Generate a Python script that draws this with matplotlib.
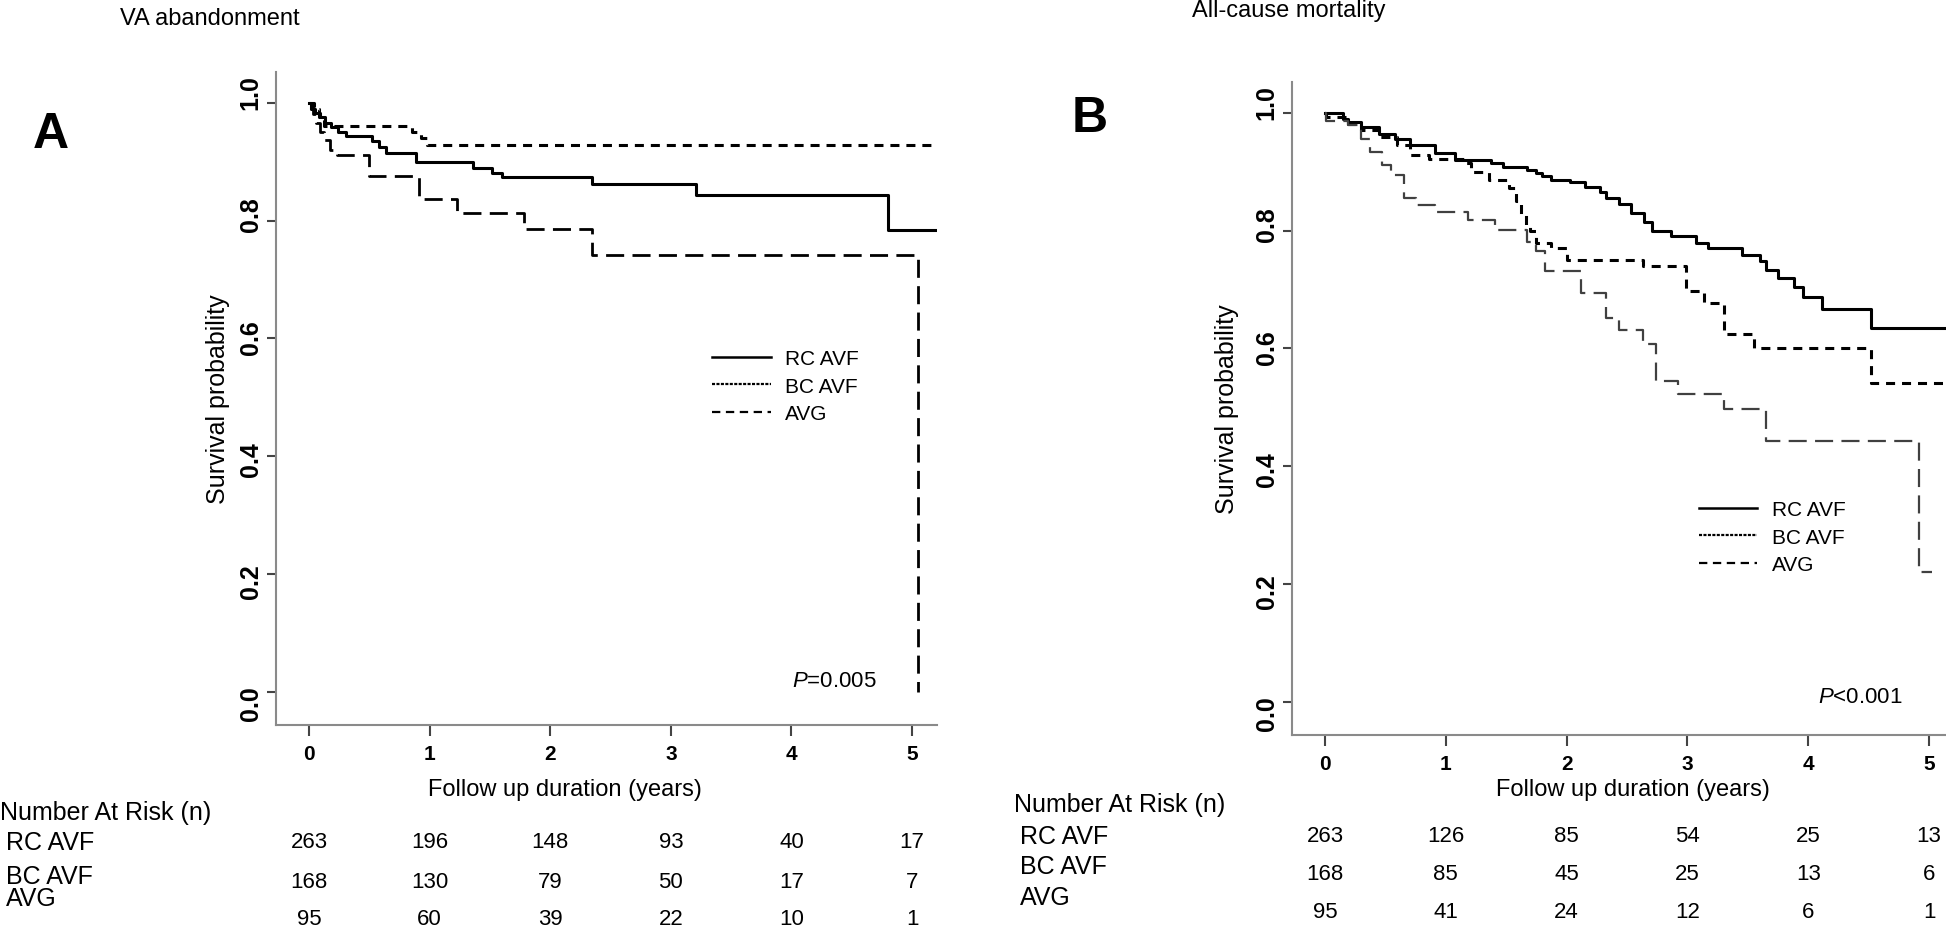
import matplotlib
matplotlib.use("Agg")
import matplotlib.pyplot as plt
from matplotlib.lines import Line2D
from matplotlib.transforms import blended_transform_factory, ScaledTranslation

plt.rcParams['font.family'] = ['Liberation Sans', 'DejaVu Sans']
plt.rcParams['mathtext.fontset'] = 'custom'
plt.rcParams['mathtext.it'] = 'Liberation Sans:italic'
plt.rcParams['mathtext.rm'] = 'Liberation Sans'
plt.rcParams['lines.scale_dashes'] = False

# ---- data: Kaplan-Meier steps ----
# panel A: VA abandonment
rc_a_t = [0, 0.02, 0.05, 0.09, 0.13, 0.18, 0.24, 0.31, 0.52, 0.58, 0.64, 0.89, 1.36, 1.52, 1.60, 2.35, 3.21, 4.80, 5.19]
rc_a_s = [1.0, 0.99, 0.983, 0.975, 0.966, 0.958, 0.95, 0.943, 0.935, 0.925, 0.914, 0.899, 0.889, 0.880, 0.874, 0.862, 0.844, 0.784, 0.784]
bc_a_t = [0, 0.04, 0.08, 0.12, 0.85, 0.93, 0.98, 5.19]
bc_a_s = [1.0, 0.99, 0.975, 0.961, 0.95, 0.94, 0.928, 0.928]
avg_a_t = [0, 0.03, 0.06, 0.09, 0.12, 0.17, 0.23, 0.50, 0.91, 1.23, 1.78, 2.35, 5.05]
avg_a_s = [1.0, 0.98, 0.965, 0.95, 0.937, 0.92, 0.912, 0.875, 0.836, 0.813, 0.785, 0.742, 0.0]

# panel B: all-cause mortality
rc_b_t = [0, 0.15, 0.19, 0.30, 0.45, 0.58, 0.70, 0.91, 1.08, 1.37, 1.47, 1.67, 1.75, 1.80, 1.87, 2.03, 2.15,
          2.28, 2.33, 2.43, 2.53, 2.64, 2.71, 2.86, 3.07, 3.17, 3.45, 3.60, 3.65, 3.75, 3.88, 3.96, 4.11, 4.52, 5.14]
rc_b_s = [1.0, 0.99, 0.984, 0.975, 0.963, 0.955, 0.945, 0.931, 0.919, 0.914, 0.908, 0.903, 0.897, 0.892, 0.886, 0.883, 0.874,
          0.866, 0.855, 0.845, 0.830, 0.815, 0.800, 0.790, 0.779, 0.770, 0.759, 0.748, 0.733, 0.719, 0.705, 0.688, 0.666, 0.635, 0.635]
bc_b_t = [0, 0.01, 0.19, 0.30, 0.45, 0.60, 0.70, 0.86, 1.16, 1.21, 1.36, 1.52, 1.58, 1.62, 1.66, 1.70, 1.75, 1.87, 2.00,
          2.63, 2.99, 3.14, 3.30, 3.55, 4.52, 5.14]
bc_b_s = [1.0, 0.993, 0.981, 0.97, 0.958, 0.945, 0.928, 0.922, 0.914, 0.90, 0.886, 0.872, 0.85, 0.827, 0.81, 0.80, 0.779, 0.77, 0.75,
          0.739, 0.697, 0.677, 0.624, 0.601, 0.542, 0.542]
avg_b_t = [0, 0.01, 0.19, 0.30, 0.37, 0.47, 0.55, 0.65, 0.75, 0.91, 1.18, 1.41, 1.67, 1.75, 1.82, 2.12, 2.33, 2.43,
           2.63, 2.74, 2.92, 3.30, 3.65, 4.92, 5.02]
avg_b_s = [1.0, 0.985, 0.979, 0.956, 0.934, 0.911, 0.894, 0.855, 0.843, 0.832, 0.818, 0.801, 0.781, 0.765, 0.731, 0.694, 0.652, 0.632,
           0.607, 0.545, 0.522, 0.497, 0.443, 0.221, 0.221]

# number at risk
risk_years = [0, 1, 2, 3, 4, 5]
risk_a_rc = [263, 196, 148, 93, 40, 17]
risk_a_bc = [168, 130, 79, 50, 17, 7]
risk_a_avg = [95, 60, 39, 22, 10, 1]
risk_b_rc = [263, 126, 85, 54, 25, 13]
risk_b_bc = [168, 85, 45, 25, 13, 6]
risk_b_avg = [95, 41, 24, 12, 6, 1]

group_names = ['RC AVF', 'BC AVF', 'AVG']
yticks = [0.0, 0.2, 0.4, 0.6, 0.8, 1.0]

W, H = 1946, 929
fig = plt.figure(figsize=(W / 100, H / 100), dpi=100)


def fx(px):
    return px / W


def fy(py):
    return 1 - py / H


def setup_axes(ax, xlim, ylabel_x, xlabel_pos):
    ax.set_xlim(*xlim)
    ax.set_ylim(-0.056, 1.052)
    for s in ['top', 'right']:
        ax.spines[s].set_visible(False)
    for s in ['left', 'bottom']:
        ax.spines[s].set_color('#8a8a8a')
        ax.spines[s].set_linewidth(1.5)
    ax.set_xticks(risk_years)
    ax.set_xticklabels([str(v) for v in risk_years], fontsize=15, fontweight='bold')
    ax.set_yticks(yticks)
    ax.set_yticklabels(['%.1f' % v for v in yticks], fontsize=18, fontweight='bold', rotation=90, va='center')
    ax.tick_params(axis='x', length=8, width=1.5, color='#444444', pad=6)
    ax.tick_params(axis='y', length=6.5, width=1.5, color='#444444', pad=3)
    # the printed tick labels sit a little wider apart than the ticks
    for v, lab in zip(yticks, ax.get_yticklabels()):
        dy = 8.0 * (2 * v - 1) / 72
        lab.set_transform(lab.get_transform() + ScaledTranslation(0, dy, fig.dpi_scale_trans))
    ax.set_ylabel('Survival probability', fontsize=18, va='center')
    ax.yaxis.set_label_coords(ylabel_x, 0.5)
    ax.set_xlabel('Follow up duration (years)', fontsize=17, va='center')
    ax.xaxis.set_label_coords(*xlabel_pos)


def add_legend(ax, anchor):
    handles = [
        Line2D([], [], color='black', lw=1.8, linestyle='-'),
        Line2D([], [], color='black', lw=1.6, linestyle=(0, (2.2, 1.0))),
        Line2D([], [], color='black', lw=1.6, linestyle=(0, (6, 4))),
    ]
    ax.legend(handles, group_names, loc='center left', bbox_to_anchor=anchor, frameon=False,
              fontsize=15, handlelength=2.8, handletextpad=0.7, labelspacing=0.42,
              borderaxespad=0, borderpad=0)


def risk_table(ax, rows, head_xy, label_x, label_ys, num_ys):
    tr = blended_transform_factory(ax.transData, fig.transFigure)
    fig.text(fx(head_xy[0]), fy(head_xy[1]), 'Number At Risk (n)', fontsize=18, ha='left', va='center')
    for name, ly in zip(group_names, label_ys):
        fig.text(fx(label_x), fy(ly), name, fontsize=18, ha='left', va='center')
    for vals, ny in zip(rows, num_ys):
        for yr, v in zip(risk_years, vals):
            ax.text(yr, fy(ny), str(v), transform=tr, fontsize=16, ha='center', va='center')


# ---------------- panel A ----------------
axA = fig.add_axes([fx(276), fy(726), fx(937) - fx(276), fy(73) - fy(726)])
axA.step(rc_a_t, rc_a_s, where='post', color='black', lw=2.2, linestyle='-')
axA.step(bc_a_t, bc_a_s, where='post', color='black', lw=2.2, linestyle=(0, (6.5, 5)))
axA.step(avg_a_t, avg_a_s, where='post', color='black', lw=2.0, linestyle=(0, (13, 6)))
setup_axes(axA, (-0.274, 5.207), -0.088, (0.437, -0.098))
add_legend(axA, (0.66, 0.519))
fig.text(fx(877), fy(682), r'$\it{P}$=0.005', fontsize=16, ha='right', va='center')
fig.text(fx(120), fy(19), 'VA abandonment', fontsize=17, ha='left', va='center')
fig.text(fx(33), fy(135), 'A', fontsize=36, fontweight='bold', ha='left', va='center')
risk_table(axA, [risk_a_rc, risk_a_bc, risk_a_avg], (0, 813), 6, [843, 877, 899], [843, 883, 920])

# ---------------- panel B ----------------
axB = fig.add_axes([fx(1292), fy(736), 1 - fx(1292), fy(83) - fy(736)])
axB.step(rc_b_t, rc_b_s, where='post', color='black', lw=2.2, linestyle='-')
axB.step(bc_b_t, bc_b_s, where='post', color='black', lw=2.2, linestyle=(0, (6.5, 5)))
axB.step(avg_b_t, avg_b_s, where='post', color='#404040', lw=1.6, linestyle=(0, (13, 6)))
setup_axes(axB, (-0.273, 5.14), -0.099, (0.521, -0.083))
add_legend(axB, (0.622, 0.303))
fig.text(fx(1903), fy(698), r'$\it{P}$<0.001', fontsize=16, ha='right', va='center')
fig.text(fx(1192), fy(11), 'All-cause mortality', fontsize=17, ha='left', va='center')
fig.text(fx(1072), fy(119), 'B', fontsize=36, fontweight='bold', ha='left', va='center')
risk_table(axB, [risk_b_rc, risk_b_bc, risk_b_avg], (1014, 805), 1020, [837, 867, 898], [837, 875, 913])

fig.savefig('out.png', dpi=100)
